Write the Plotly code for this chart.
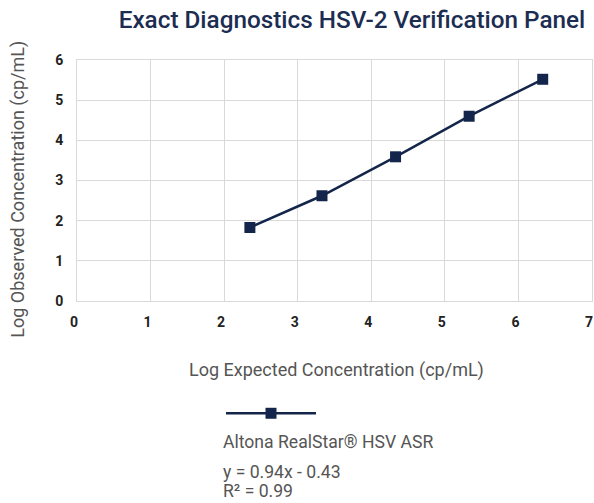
import plotly.graph_objects as go

x_expected = [2.35, 3.33, 4.33, 5.33, 6.33]
y_observed = [1.83, 2.62, 3.59, 4.60, 5.52]
series_name = "Altona RealStar® HSV ASR"
equation = "y = 0.94x - 0.43"
r_squared = "R² = 0.99"
x_ticks = [0, 1, 2, 3, 4, 5, 6, 7]
y_ticks = [0, 1, 2, 3, 4, 5, 6]

navy = "#13254a"
grid = "#d9d9d9"
W, H = 594, 503
L, R, T = 77, 2, 60
B = H - 301.5
pw, ph = W - L - R, H - T - B


def px(xr):
    return (xr - L) / pw


def py(yr):
    return (H - B - yr) / ph


fig = go.Figure()
fig.add_trace(go.Scatter(
    x=x_expected, y=y_observed, mode="lines+markers", name=series_name,
    line=dict(color=navy, width=2.5),
    marker=dict(symbol="square", size=11, color=navy),
    showlegend=False,
))

fig.update_layout(
    width=W, height=H,
    margin=dict(l=L, r=R, t=T, b=B, autoexpand=False),
    paper_bgcolor="white", plot_bgcolor="white",
    font=dict(family="Roboto", color="#555555"),
    title=dict(text="Exact Diagnostics HSV-2 Verification Panel",
               x=352 / W, xanchor="center", y=1 - 19 / H, yanchor="middle",
               font=dict(family="Roboto", size=24.3, color="#1c2d52", weight=500)),
    xaxis=dict(range=[0, 7], tickvals=x_ticks, showgrid=True, gridcolor=grid,
               zeroline=False, showline=True, linecolor=grid, mirror=True,
               tickfont=dict(size=14, color="#222222", weight="bold"),
               ticks="outside", ticklen=8, tickcolor="rgba(0,0,0,0)",
               ticklabelshift=-3, ticklabeloverflow="allow", automargin=False),
    yaxis=dict(range=[0, 6], tickvals=y_ticks, showgrid=True, gridcolor=grid,
               zeroline=False, showline=True, linecolor=grid, mirror=True,
               tickfont=dict(size=14, color="#222222", weight="bold"),
               ticks="outside", ticklen=10, tickcolor="rgba(0,0,0,0)",
               automargin=False),
)

# axis titles
fig.add_annotation(text="Log Expected Concentration (cp/mL)", xref="paper", yref="paper",
                   x=px(336), y=py(371), xanchor="center", yanchor="middle",
                   showarrow=False, font=dict(size=18, color="#555555"))
fig.add_annotation(text="Log Observed Concentration (cp/mL)", xref="paper", yref="paper",
                   x=px(18), y=py(190), xanchor="center", yanchor="middle", textangle=-90,
                   showarrow=False, font=dict(size=18, color="#555555"))

# legend symbol (decoration) in paper coordinates
fig.add_shape(type="line", xref="paper", yref="paper",
              x0=px(226), x1=px(316), y0=py(414), y1=py(414),
              line=dict(color=navy, width=2.5))
fig.add_shape(type="rect", xref="paper", yref="paper",
              x0=px(265.5), x1=px(276.5), y0=py(408.5), y1=py(419.5),
              line=dict(width=0), fillcolor=navy)

fig.add_annotation(text=series_name, xref="paper", yref="paper",
                   x=px(221), y=py(443), xanchor="left", yanchor="middle",
                   showarrow=False, font=dict(size=17.6, color="#555555"))
fig.add_annotation(text=equation, xref="paper", yref="paper",
                   x=px(221), y=py(473), xanchor="left", yanchor="middle",
                   showarrow=False, font=dict(size=17.6, color="#555555"))
fig.add_annotation(text=r_squared, xref="paper", yref="paper",
                   x=px(221), y=py(491.5), xanchor="left", yanchor="middle",
                   showarrow=False, font=dict(size=17.6, color="#555555"))

fig.write_html("out.html", config={"displayModeBar": False},
               post_script="document.body.style.margin='0';")
